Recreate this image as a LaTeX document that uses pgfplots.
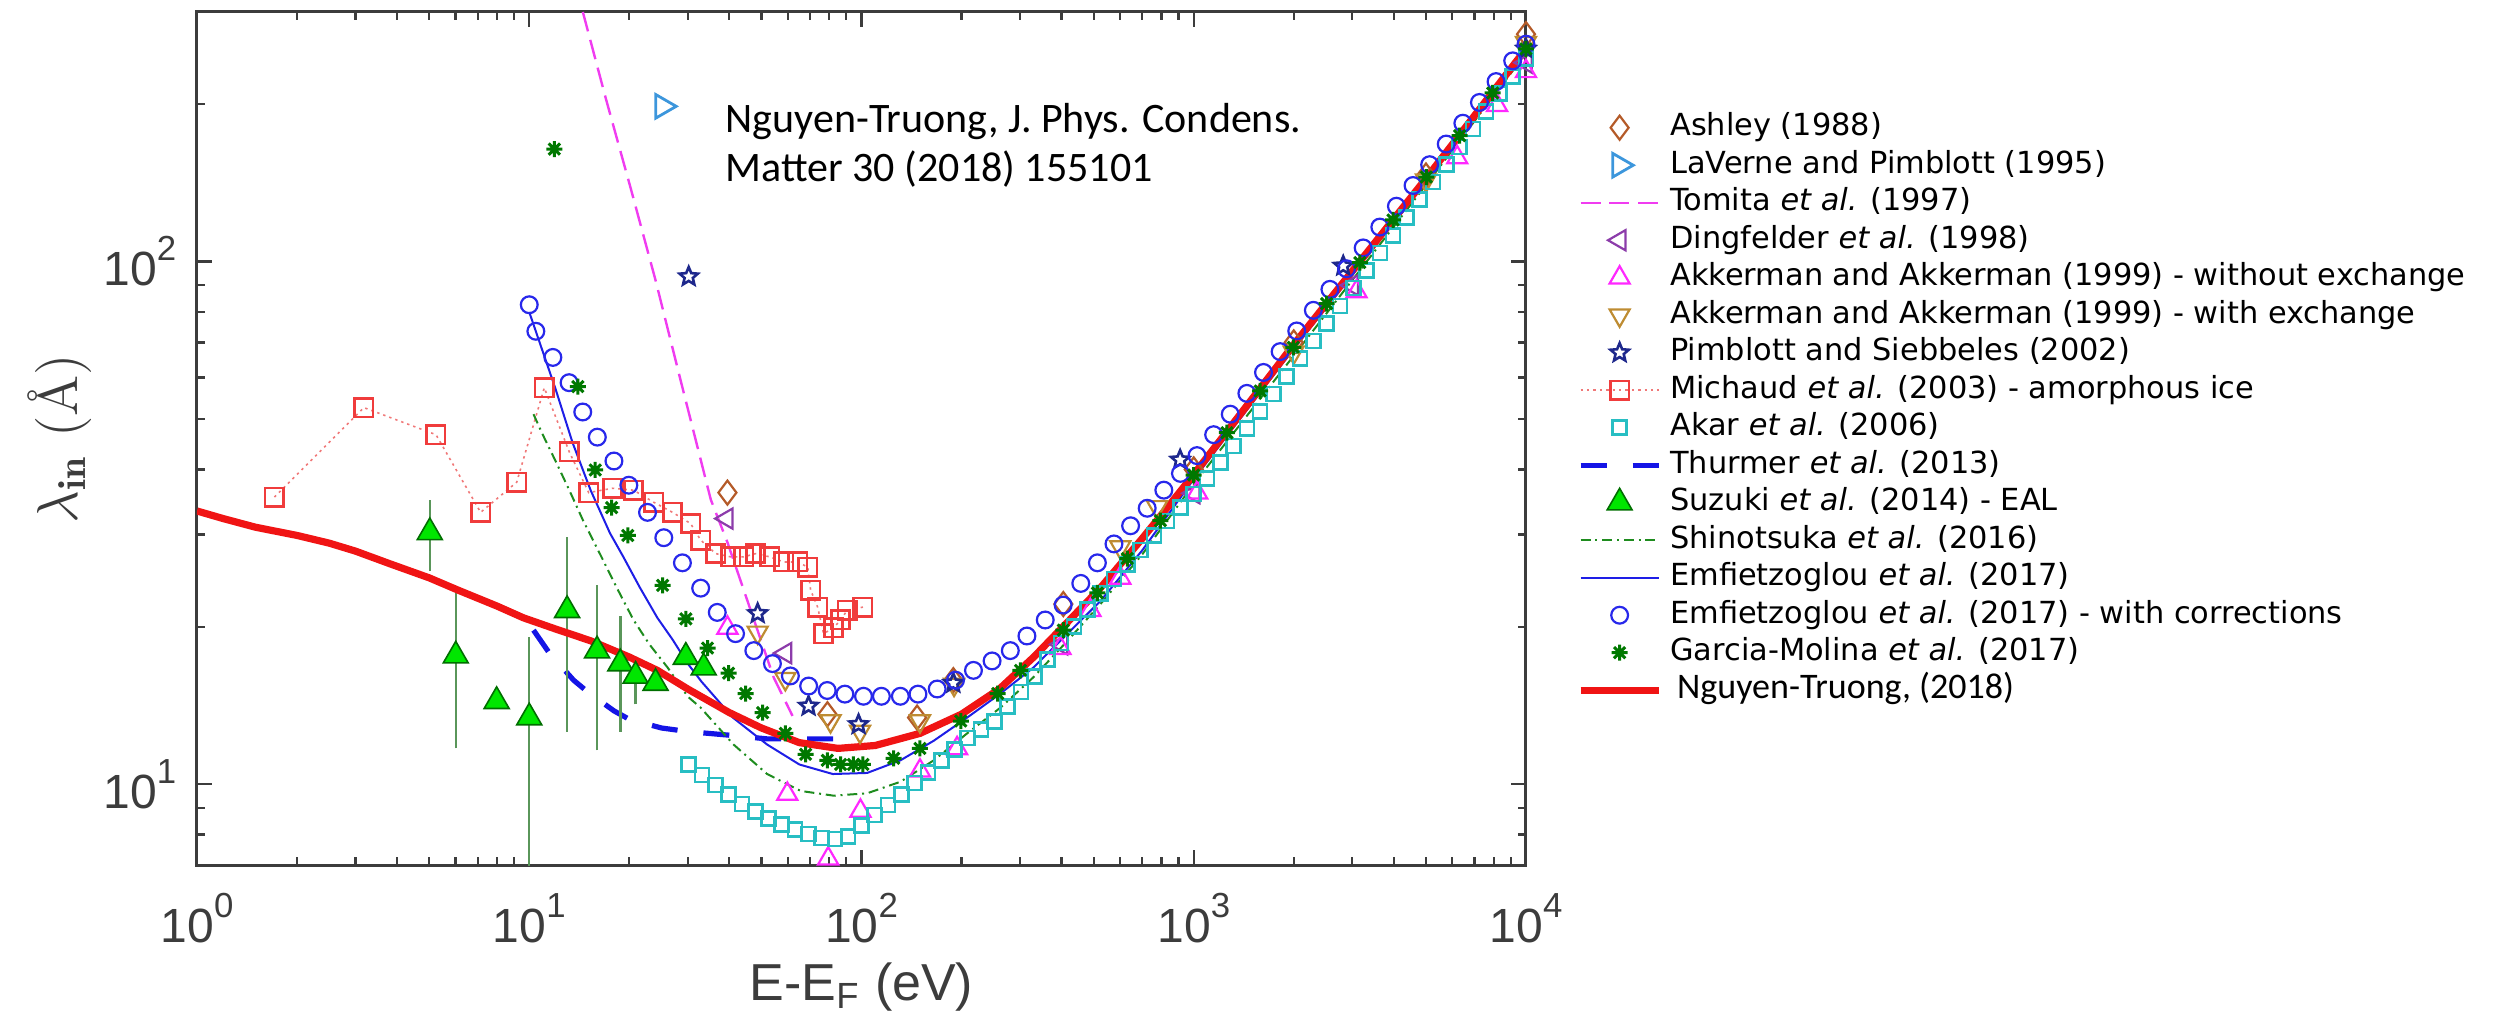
\documentclass[border=0pt]{standalone}
\usepackage{fontspec}
\usepackage{pgfplots}
\pgfplotsset{compat=1.18}
\newfontfamily\lib{Liberation Sans}
\newfontfamily\dejavu{DejaVu Sans}
\newfontfamily\carlito{Carlito}

\definecolor{axgray}{RGB}{60,60,60}
\definecolor{nred}{RGB}{240,20,20}
\definecolor{mich}{RGB}{240,60,60}
\definecolor{michl}{RGB}{240,120,120}
\definecolor{emfb}{RGB}{40,40,235}
\definecolor{emfl}{RGB}{30,30,230}
\definecolor{akar}{RGB}{40,190,195}
\definecolor{garcia}{RGB}{0,120,0}
\definecolor{suzf}{RGB}{0,230,0}
\definecolor{suze}{RGB}{0,110,0}
\definecolor{suzb}{RGB}{90,150,90}
\definecolor{shino}{RGB}{30,140,30}
\definecolor{thur}{RGB}{20,20,230}
\definecolor{tomita}{RGB}{240,60,240}
\definecolor{akkwo}{RGB}{255,40,255}
\definecolor{akkw}{RGB}{190,140,50}
\definecolor{ashley}{RGB}{180,90,40}
\definecolor{ding}{RGB}{140,60,170}
\definecolor{lav}{RGB}{60,150,220}
\definecolor{pimb}{RGB}{30,40,140}

\newcommand{\ticklab}{\lib\fontsize{12}{14}\selectfont}
\newcommand{\supx}[1]{\raisebox{6.25pt}{\fontsize{8.7}{9}\selectfont #1}}
\newcommand{\legfont}{\dejavu\fontsize{7.6}{9}\selectfont}

\pgfdeclareplotmark{pstar}{%
  \pgfpathmoveto{\pgfpointpolar{90}{\pgfplotmarksize}}%
  \pgfpathlineto{\pgfpointpolar{126}{0.45\pgfplotmarksize}}%
  \pgfpathlineto{\pgfpointpolar{162}{\pgfplotmarksize}}%
  \pgfpathlineto{\pgfpointpolar{198}{0.45\pgfplotmarksize}}%
  \pgfpathlineto{\pgfpointpolar{234}{\pgfplotmarksize}}%
  \pgfpathlineto{\pgfpointpolar{270}{0.45\pgfplotmarksize}}%
  \pgfpathlineto{\pgfpointpolar{306}{\pgfplotmarksize}}%
  \pgfpathlineto{\pgfpointpolar{342}{0.45\pgfplotmarksize}}%
  \pgfpathlineto{\pgfpointpolar{18}{\pgfplotmarksize}}%
  \pgfpathlineto{\pgfpointpolar{54}{0.45\pgfplotmarksize}}%
  \pgfpathclose
  \pgfusepathqstroke
}
\pgfdeclareplotmark{ast8}{%
  \pgfpathmoveto{\pgfpointpolar{0}{\pgfplotmarksize}}\pgfpathlineto{\pgfpointpolar{180}{\pgfplotmarksize}}%
  \pgfpathmoveto{\pgfpointpolar{90}{\pgfplotmarksize}}\pgfpathlineto{\pgfpointpolar{270}{\pgfplotmarksize}}%
  \pgfpathmoveto{\pgfpointpolar{45}{\pgfplotmarksize}}\pgfpathlineto{\pgfpointpolar{225}{\pgfplotmarksize}}%
  \pgfpathmoveto{\pgfpointpolar{135}{\pgfplotmarksize}}\pgfpathlineto{\pgfpointpolar{315}{\pgfplotmarksize}}%
  \pgfusepathqstroke
}

\begin{document}
\begin{tikzpicture}
\begin{axis}[
  scale only axis,
  width=332.25pt, height=213.25pt,
  xmode=log, ymode=log,
  xmin=1, xmax=10000, ymin=7, ymax=300,
  xtick={1,10,100,1000,10000},
  xticklabels={{10\supx{0}},{10\supx{1}},{10\supx{2}},{10\supx{3}},{10\supx{4}}},
  ytick={10,100},
  yticklabels={{10\supx{1}},{10\supx{2}}},
  minor xtick={2,3,4,5,6,7,8,9,20,30,40,50,60,70,80,90,200,300,400,500,600,700,800,900,2000,3000,4000,5000,6000,7000,8000,9000},
  minor ytick={7,8,9,20,30,40,50,60,70,80,90,200,300},
  tick align=inside,
  major tick length=3.75pt, minor tick length=2pt,
  tick style={color=axgray, line width=0.6pt},
  axis line style={color=axgray, line width=0.75pt},
  xticklabel style={font=\ticklab, text=axgray, anchor=base, yshift=-19.25pt},
  yticklabel style={font=\ticklab, text=axgray, anchor=east, inner sep=0pt, xshift=-5pt},
  xlabel={E-E\textsubscript{F} (eV)},
  xlabel style={font=\lib\fontsize{13}{15}\selectfont, text=axgray, at={(rel axis cs:0.5,0)}, anchor=base, yshift=-33.75pt},
  ylabel={$\lambda_{\mathbf{in}}$\ (\AA)},
  ylabel style={font=\fontsize{14}{16}\selectfont, text=axgray, at={(rel axis cs:-0.079,0.5)}, anchor=south, inner sep=0pt},
  legend style={at={(1.0384,0.8828)}, anchor=north west, draw=none, fill=none,
    inner sep=0pt, outer sep=0pt, row sep=1.5pt, column sep=2pt, font=\legfont,
    nodes={inner sep=0pt, text height=6pt, text depth=1.875pt}},
  legend cell align=left,
  legend image code/.code={\draw[mark repeat=2,mark phase=2] plot coordinates {(0pt,0pt) (9.75pt,0pt) (19.5pt,0pt)};},
]

% Ashley (1988)
\addplot[only marks, mark=diamond, mark size=3pt, color=ashley, line width=0.55pt] table {
39.5 36.1
79 13.6
147 13.4
189 15.8
405 22.1
1000 40
2000 70
5000 146
10000 272
};
\addlegendentry{Ashley (1988)}

% LaVerne and Pimblott (1995)
\addplot[only marks, mark=triangle, mark size=3.4pt, mark options={rotate=-90}, color=lav, line width=0.7pt] table {
25.2 198
};
\addlegendentry{LaVerne and Pimblott (1995)}

% Tomita et al. (1997)
\addplot[no marks, color=tomita, line width=0.6pt, dash pattern=on 5pt off 2.2pt] table {
14.5 300
17 205
20.2 138
24 92
28.4 60
35.2 35
39.5 29
46.4 21.5
54.4 16
62 13.5
};
\addlegendentry{Tomita \textit{et al.} (1997)}

% Dingfelder et al. (1998)
\addplot[only marks, mark=triangle, mark size=2.9pt, mark options={rotate=90}, color=ding, line width=0.55pt] table {
39.3 32.2
59 17.8
400 18.5
1000 36
3000 90
10000 240
};
\addlegendentry{Dingfelder \textit{et al.} (1998)}

% Akkerman and Akkerman (1999) - without exchange
\addplot[only marks, mark=triangle, mark size=2.9pt, color=akkwo, line width=0.55pt] table {
39.5 19.9
59.8 9.57
79.4 7.2
99.3 8.88
150 10.6
194 11.7
397 18.2
489 21.5
601 24.8
1024 36.1
3090 87.6
6209 158
8185 199
10000 231
};
\addlegendentry{Akkerman and Akkerman (1999) - without exchange}

% Akkerman and Akkerman (1999) - with exchange
\addplot[only marks, mark=triangle, mark size=2.9pt, mark options={rotate=180}, color=akkw, line width=0.55pt] table {
48.7 19.5
59 15.9
80.7 13.2
99 12.6
150 13.2
190 15.5
601 28.4
776 33.9
2000 67
5000 143
10000 262
};
\addlegendentry{Akkerman and Akkerman (1999) - with exchange}

% Pimblott and Siebbeles (2002)
\addplot[only marks, mark=pstar, mark size=2.4pt, color=pimb, line width=0.65pt] table {
30.2 93.5
48.7 21.2
69.3 14.1
98 13.0
189 15.6
910 41.7
2818 98
10000 255
};
\addlegendentry{Pimblott and Siebbeles (2002)}

% Michaud et al. (2003) - amorphous ice
\addplot[color=michl, line width=0.4pt, dash pattern=on 0.6pt off 1pt, mark=square, mark size=2.3pt, mark options={solid, draw=mich, line width=0.65pt}] table {
1.71 35.4
3.18 52.5
5.24 46.6
7.14 33.1
9.17 37.8
11.1 57.3
13.2 43.2
15.1 36.1
17.8 36.8
20.6 36.5
23.7 34.6
27.0 33.1
30.6 31.5
32.8 29.3
36.4 27.6
40.4 27.2
44.2 27.2
48.0 27.6
53.0 27.2
58.3 26.6
64.3 26.6
68.9 26.0
70.3 23.5
73.8 21.8
76.9 19.4
82.4 19.9
86.5 20.6
90.6 21.5
101 21.8
};
\addlegendentry{Michaud \textit{et al.} (2003) - amorphous ice}

% Akar et al. (2006)
\addplot[only marks, mark=square, mark size=1.75pt, color=akar, line width=0.65pt] table {
30.2 10.91
33.1 10.40
36.3 9.95
39.8 9.55
43.7 9.16
47.9 8.85
52.5 8.59
57.5 8.36
63.1 8.18
69.2 8.02
75.9 7.89
83.2 7.85
91.2 7.94
100 8.32
109.6 8.73
120.2 9.12
131.8 9.55
144.5 10.05
158.5 10.52
173.8 11.09
190.5 11.64
208.9 12.25
229.1 12.71
251.2 13.18
275.4 14.06
302 15.0
331.1 16.07
363.1 17.30
398.1 18.62
436.5 20.04
478.6 21.58
524.8 23.12
575.4 24.66
631 26.30
691.8 28.05
758.6 29.92
831.8 31.84
912 33.81
1000 35.89
1096 38.46
1202 41.21
1318 44.36
1445 47.86
1585 51.64
1738 55.72
1905 60.26
2089 65.16
2291 70.47
2512 76.03
2754 82.22
3020 88.92
3311 96.16
3631 103.8
3981 112.2
4365 121.3
4786 131.2
5248 141.9
5754 153.1
6310 165.6
6918 179.1
7586 193.6
8318 209.4
9120 225.9
10000 244.3
};
\addlegendentry{Akar \textit{et al.} (2006)}

% Thurmer et al. (2013)
\addplot[no marks, color=thur, line width=1.3pt, dash pattern=on 6.5pt off 6.5pt] table {
10.3 19.7
11.5 17.8
13.6 15.8
15 15.0
18 13.8
20 13.3
25 12.8
30 12.6
40 12.4
52 12.2
70 12.2
90 12.2
};
\addlegendentry{Thurmer \textit{et al.} (2013)}

% Suzuki et al. (2014) - EAL : error bars
\addplot[forget plot, no marks, color=suzb, line width=0.6pt, unbounded coords=jump] table {
5.02 25.6
5.02 34.9
5.02 nan
6.01 11.7
6.01 23.2
6.01 nan
10.0 5
10.0 19.1
10.0 nan
13.0 12.6
13.0 29.7
13.0 nan
16.0 11.6
16.0 24.0
16.0 nan
18.8 12.6
18.8 21.0
18.8 nan
20.9 14.2
20.9 17.5
};
\addplot[only marks, mark=triangle*, mark size=3.6pt, mark options={fill=suzf, draw=suze, line width=0.4pt}] table {
5.02 30.3
6.01 17.6
7.98 14.4
10.0 13.4
13.0 21.5
16.0 18.0
18.8 17.0
20.9 16.1
24.0 15.6
29.6 17.5
33.5 16.7
};
\addlegendentry{Suzuki \textit{et al.} (2014) - EAL}

% Shinotsuka et al. (2016)
\addplot[no marks, color=shino, line width=0.5pt, dash pattern=on 2.5pt off 1.2pt on 0.5pt off 1.2pt] table {
10.3 51
11 46.5
12 41.5
13.2 36.5
14.5 32
16.4 27.4
18.5 23.5
20.6 20.6
23 18.5
26.1 16.7
30 14.7
32.8 14.0
41.2 11.9
52 10.45
65.6 9.7
82.4 9.5
104 9.6
131 10.1
165 11.1
208 12.5
262 14.0
329 16.0
417 18.8
524 22.1
700 27.5
1000 37.5
2000 66
5000 140
10000 250
};
\addlegendentry{Shinotsuka \textit{et al.} (2016)}

% Emfietzoglou et al. (2017)
\addplot[no marks, color=emfl, line width=0.5pt] table {
10 80
11 67
12 57
13.5 45
15.3 36.5
17.5 30.2
19.2 27.2
21.5 23.8
24.3 20.8
27 18.9
30 17.0
33 15.7
41 13.4
52 11.9
65 10.9
82 10.45
104 10.5
131 11.1
165 12.1
208 13.4
262 14.9
329 16.7
417 19.4
524 22.4
700 28
1000 38.3
2000 68
5000 142
10000 252
};
\addlegendentry{Emfietzoglou \textit{et al.} (2017)}

% Emfietzoglou et al. (2017) - with corrections
\addplot[only marks, mark=o, mark size=2.1pt, color=emfb, line width=0.55pt] table {
10.0 82.6
10.47 73.5
11.78 65.5
13.18 58.6
14.49 51.5
16.03 46.1
17.99 41.5
19.95 37.3
22.70 33.1
25.41 29.6
28.91 26.5
32.81 23.7
36.81 21.3
41.78 19.4
47.42 18.0
53.95 17.0
61.09 16.1
69.34 15.4
78.89 15.1
89.13 14.86
101.4 14.72
114.8 14.72
130.9 14.72
147.9 14.86
169.0 15.2
191.9 15.8
217.3 16.5
247.2 17.2
280.5 18.0
314.8 19.2
357.3 20.6
404.6 22.0
457.1 24.2
512.9 26.5
575.4 28.8
645.7 31.2
724.4 33.7
812.8 36.5
912.0 39.3
1023 42.5
1148 46.6
1288 51.0
1445 55.9
1622 61.3
1820 67.2
2042 73.6
2291 80.6
2570 88.4
2884 96.8
3236 106.1
3631 116.3
4074 127.5
4571 139.7
5129 153.1
5754 167.7
6457 183.8
7244 201.4
8128 220.8
9120 241.9
10000 260.3
};
\addlegendentry{Emfietzoglou \textit{et al.} (2017) - with corrections}

% Garcia-Molina et al. (2017)
\addplot[only marks, mark=ast8, mark size=2pt, color=garcia, line width=0.75pt] table {
11.9 164
14.0 57.6
15.8 39.9
17.7 33.8
19.8 29.9
25.2 24.0
29.6 20.7
34.4 18.2
39.8 16.3
44.8 14.9
50.4 13.7
59 12.5
67.9 11.4
78.9 11.1
86.5 10.9
94.6 10.9
101 10.9
125 11.2
150 11.7
199 13.2
257 14.9
301 16.5
405 19.7
513 23.2
631 27.0
794 31.9
1000 39.0
1259 47.0
1585 56.5
1995 68.5
2512 83
3162 99.5
3981 120
5012 145
6310 174
7943 210
10000 255
};
\addlegendentry{Garcia-Molina \textit{et al.} (2017)}

% Nguyen-Truong (2018)
\addplot[no marks, color=nred, line width=1.8pt] table {
1 33.3
1.2 32.2
1.5 31.0
2.0 29.9
2.5 28.9
3.0 27.9
3.8 26.4
5.0 24.8
6.1 23.5
8.0 21.9
9.6 20.8
12 19.8
15.3 18.8
20 17.5
24.3 16.5
30 15.2
40 13.7
50 12.8
65 12.0
85 11.7
110 11.85
150 12.5
200 13.6
260 15.2
330 17.5
420 20.5
520 23.6
700 29.5
867 34.9
1000 39.1
1500 54.6
2000 69.3
3000 95.8
5000 144
7000 190
10000 255
};
\addlegendentry{\carlito\fontsize{9}{10}\selectfont\hspace{1.75pt}Nguyen-Truong, (2018)}

\node[anchor=base west, inner sep=0pt, font=\carlito\fontsize{10.5}{12}\selectfont] at (rel axis cs:0.3973,0.8593) {Nguyen-Truong, J. Phys. Condens.};
\node[anchor=base west, inner sep=0pt, font=\carlito\fontsize{10.5}{12}\selectfont] at (rel axis cs:0.3973,0.8007) {Matter 30 (2018) 155101};
\end{axis}
\pgfresetboundingbox
\path (-49.25pt,-41.25pt) rectangle (574.25pt,216.25pt);
\end{tikzpicture}
\end{document}
